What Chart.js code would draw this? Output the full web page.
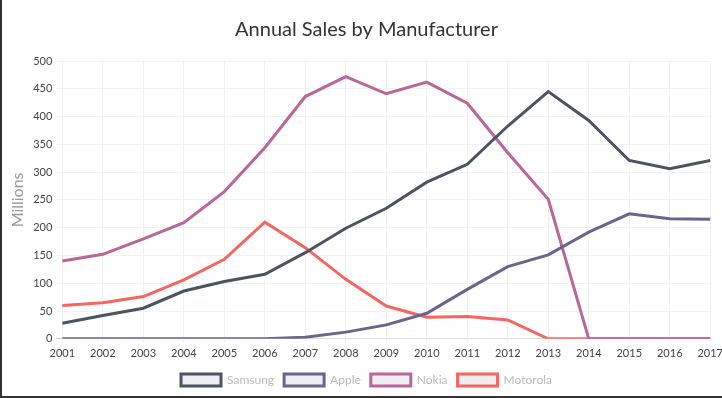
<!DOCTYPE html>
<html>
<head>
<meta charset="utf-8">
<script src="https://cdn.jsdelivr.net/npm/chart.js@4"></script>
<style>
html,body{margin:0;padding:0;background:#fff;}
#wrap{position:relative;width:722px;height:398px;box-sizing:border-box;border-left:2px solid #333;border-bottom:2px solid #333;overflow:hidden;}
#c{display:block;}
</style>
</head>
<body>
<div id="wrap"><canvas id="c" width="725" height="396" style="width:725px;height:396px"></canvas></div>
<script>
const years = ['2001','2002','2003','2004','2005','2006','2007','2008','2009','2010','2011','2012','2013','2014','2015','2016','2017'];
const samsung  = [28, 42, 55, 86, 103, 116, 155, 199, 235, 282, 314, 383, 445, 393, 321, 306, 321];
const apple    = [0, 0, 0, 0, 0, 0, 3, 12, 25, 46, 89, 130, 151, 192, 225, 216, 215];
const nokia    = [140, 152, 180, 209, 265, 344, 436, 472, 441, 462, 424, 335, 251, 0, 0, 0, 0];
const motorola = [60, 65, 76, 106, 143, 210, 164, 107, 59, 39, 40, 34, 0, 0, 0, 0, 0];
const yTicks = [0, 50, 100, 150, 200, 250, 300, 350, 400, 450, 500];

const FONT = "Lato, 'Open Sans', sans-serif";
Chart.defaults.font.family = FONT;

function ds(label, data, color) {
  return {
    label, data,
    borderColor: color,
    backgroundColor: 'rgba(236,236,242,0.9)',
    borderWidth: 3,
    pointRadius: 0,
    pointHoverRadius: 0,
    tension: 0,
    fill: false
  };
}

new Chart(document.getElementById('c'), {
  type: 'line',
  data: {
    labels: years,
    datasets: [
      ds('Samsung', samsung, '#4d5360'),
      ds('Apple', apple, '#6c6490'),
      ds('Nokia', nokia, '#b9669b'),
      ds('Motorola', motorola, '#f56660')
    ]
  },
  options: {
    responsive: false,
    animation: false,
    layout: { padding: { top: 8, left: 4, right: 0, bottom: 0 } },
    plugins: {
      title: {
        display: true,
        text: 'Annual Sales by Manufacturer',
        color: '#333',
        font: { size: 20, weight: 'normal', family: FONT },
        padding: { top: 10, bottom: 19 }
      },
      legend: {
        position: 'bottom',
        labels: {
          color: '#bbb',
          boxWidth: 40,
          boxHeight: 12,
          font: { size: 12, family: FONT },
          padding: 10
        }
      },
      tooltip: { enabled: false }
    },
    scales: {
      x: {
        grid: { color: '#f2f2f2', tickLength: 4 },
        border: { color: '#ddd' },
        ticks: { color: '#444', font: { size: 11 }, maxRotation: 0, autoSkip: false, padding: 4 }
      },
      y: {
        min: 0, max: 500,
        afterBuildTicks: (axis) => { axis.ticks = yTicks.map(v => ({ value: v })); },
        grid: { color: (ctx) => ctx.tick && ctx.tick.value === 0 ? '#ccc' : '#f2f2f2', tickLength: 6 },
        border: { color: '#f0f0f0' },
        ticks: { color: '#444', font: { size: 11 }, padding: 4 },
        title: { display: true, text: 'Millions', color: '#999', font: { size: 16, family: FONT }, padding: 2 }
      }
    }
  }
});
</script>
</body>
</html>
